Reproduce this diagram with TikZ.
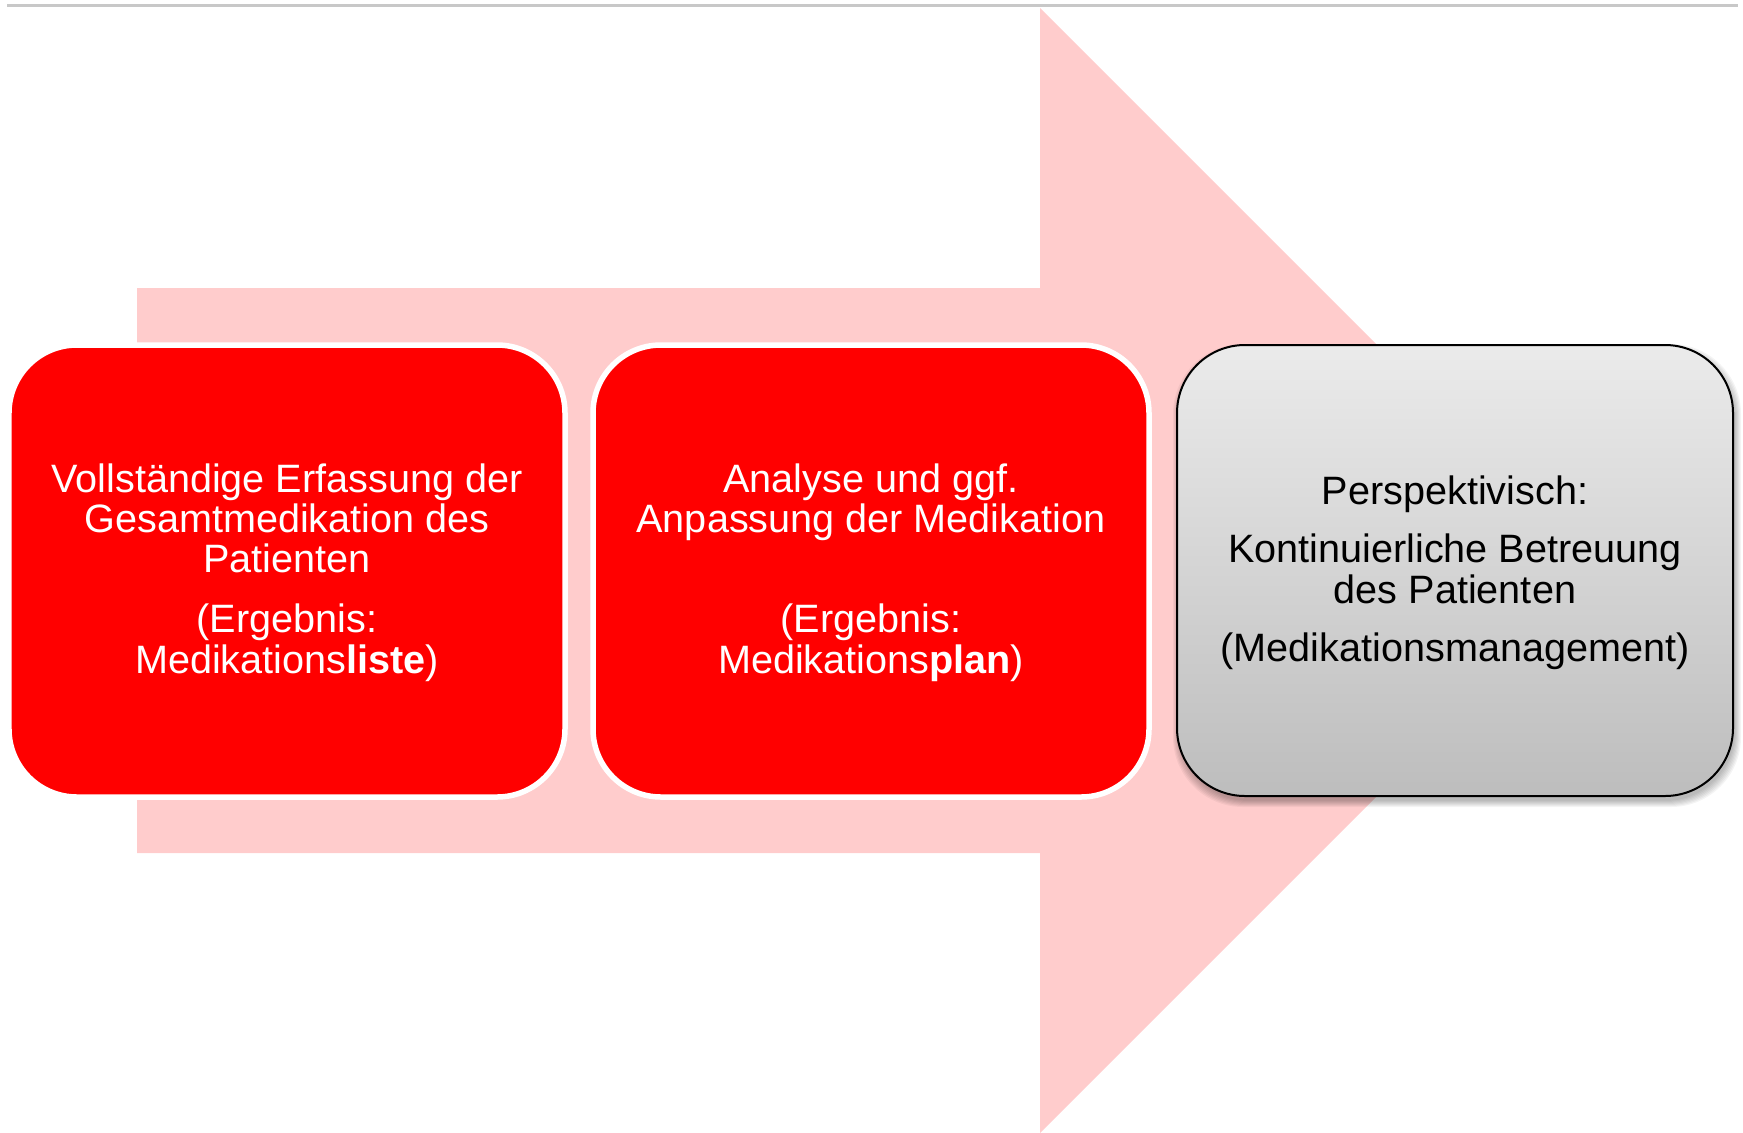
\documentclass[tikz,border=0pt]{standalone}
\usepackage{fontspec}
\setmainfont{Liberation Sans}
\definecolor{arrowpink}{HTML}{FFCCCC}
\definecolor{boxred}{HTML}{FF0000}
\definecolor{linegray}{HTML}{C8C8C8}
\definecolor{graytop}{HTML}{EBEBEB}
\definecolor{graybot}{HTML}{BDBDBD}
\tikzset{
  redbox/.style={rectangle, rounded corners=68bp, fill=boxred, draw=white,
    line width=5.5bp, minimum width=556bp, minimum height=452bp, inner sep=0pt},
  graybox/.style={rectangle, rounded corners=68bp, top color=graytop, bottom color=graybot,
    draw=black, line width=2bp, minimum width=556bp, minimum height=451bp, inner sep=0pt},
  shadowlayer/.style={rectangle, rounded corners=70bp, fill=black, fill opacity=0.045,
    draw=none, inner sep=0pt},
  wtxt/.style={anchor=base, text=white, inner sep=0pt, font=\fontsize{39.6bp}{40bp}\selectfont},
  btxt/.style={anchor=base, text=black, inner sep=0pt, font=\fontsize{39.6bp}{40bp}\selectfont},
}
\begin{document}
\begin{tikzpicture}[x=1bp, y=-1bp]
\useasboundingbox (0,0) rectangle (1743,1132);
% top rule
\draw[line width=3bp, linegray] (7,5) -- (1738,5);
% big arrow
\fill[arrowpink] (137,288) -- (1040,288) -- (1040,8) -- (1602.5,570.5)
  -- (1040,1133) -- (1040,853) -- (137,853) -- cycle;
% boxes
\node[redbox] (b1) at (287,571) {};
\node[redbox] (b2) at (871,571) {};
\foreach \i in {0,...,6}{
  \node[shadowlayer, minimum width={556bp+2bp*\i}, minimum height={451bp+2bp*\i}]
    (sh\i) at (1457,575.5) {};
}
\node[graybox] (b3) at (1455,570.5) {};
% texts box 1
\node[wtxt] (t1a) at (287,492) {Vollständige Erfassung der};
\node[wtxt] (t1b) at (287,532) {Gesamtmedikation des};
\node[wtxt] (t1c) at (287,572) {Patienten};
\node[wtxt] (t1d) at (287,632) {(Ergebnis:};
\node[wtxt] (t1e) at (287,673) {Medikations\textbf{liste})};
% texts box 2
\node[wtxt] (t2a) at (871,492) {Analyse und ggf.};
\node[wtxt] (t2b) at (871,532) {Anpassung der Medikation};
\node[wtxt] (t2d) at (871,632) {(Ergebnis:};
\node[wtxt] (t2e) at (871,673) {Medikations\textbf{plan})};
% texts box 3
\node[btxt] (t3a) at (1455,504) {Perspektivisch:};
\node[btxt] (t3b) at (1455,562) {Kontinuierliche Betreuung};
\node[btxt] (t3c) at (1455,603) {des Patienten};
\node[btxt] (t3d) at (1455,661) {(Medikationsmanagement)};
\end{tikzpicture}
\end{document}
